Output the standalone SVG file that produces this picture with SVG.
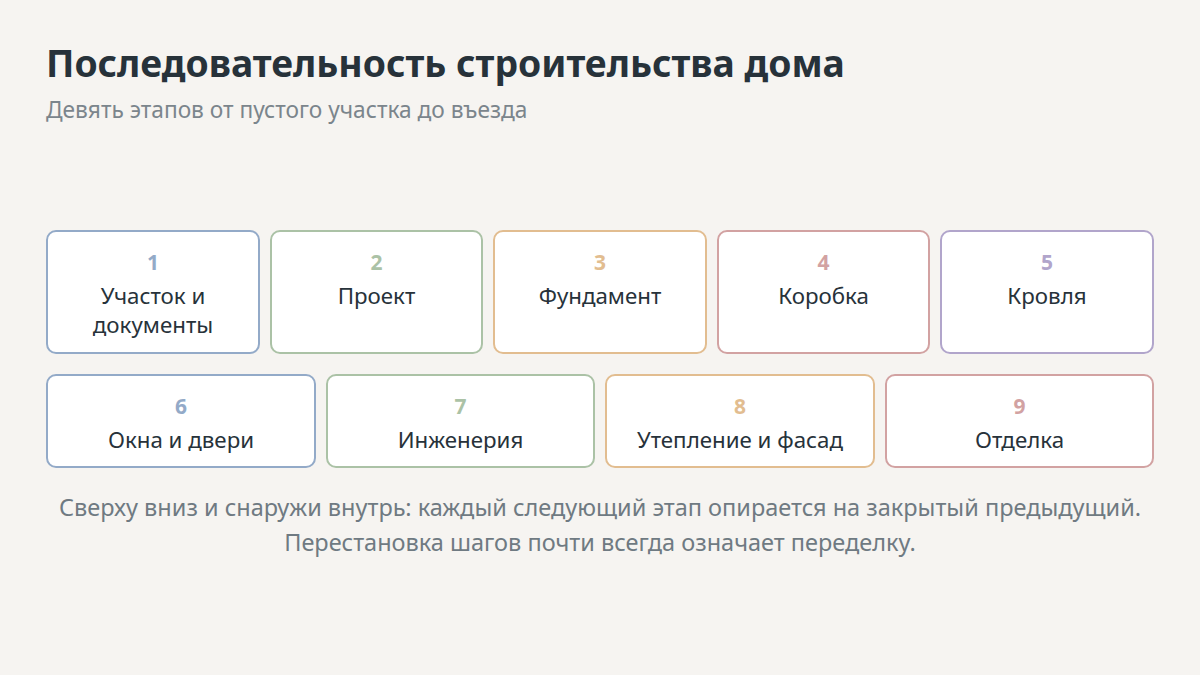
<svg xmlns="http://www.w3.org/2000/svg" width="1200" height="675" viewBox="0 0 1200 675">
<style>
.bg{fill:#f6f4f1}
.title{font-family:"Noto Sans","Open Sans",sans-serif;font-weight:700;font-size:37.3px;fill:#27323a}
.sub{font-family:"Noto Sans","Open Sans",sans-serif;font-size:22.7px;fill:#7b858c}
.box{fill:#ffffff;stroke-width:2}
.num{font-family:"Noto Sans","Open Sans",sans-serif;font-weight:700;font-size:21px;text-anchor:middle}
.lbl{font-family:"Noto Sans","Open Sans",sans-serif;font-size:22.3px;fill:#27323a;text-anchor:middle}
.foot{font-family:"Noto Sans","Open Sans",sans-serif;font-size:23.5px;fill:#6f7a82;text-anchor:middle}
.c1{stroke:#93aac8}.t1{fill:#93aac8}
.c2{stroke:#abc2a6}.t2{fill:#abc2a6}
.c3{stroke:#e2bd90}.t3{fill:#e2bd90}
.c4{stroke:#d2a2a2}.t4{fill:#d2a2a2}
.c5{stroke:#b1a5cb}.t5{fill:#b1a5cb}
</style>
<rect class="bg" x="0" y="0" width="1200" height="675"/>
<text class="title" x="46" y="77">Последовательность строительства дома</text>
<text class="sub" x="46" y="118">Девять этапов от пустого участка до въезда</text>
<g id="connectors"></g>
<g id="n1"><rect class="box c1" x="47" y="231" width="212" height="122" rx="9"/><text class="num t1" x="153" y="270">1</text><text class="lbl" x="153" y="304">Участок и</text><text class="lbl" x="153" y="333">документы</text></g>
<g id="n2"><rect class="box c2" x="271" y="231" width="211" height="122" rx="9"/><text class="num t2" x="376.5" y="270">2</text><text class="lbl" x="376.5" y="304">Проект</text></g>
<g id="n3"><rect class="box c3" x="494" y="231" width="212" height="122" rx="9"/><text class="num t3" x="600" y="270">3</text><text class="lbl" x="600" y="304">Фундамент</text></g>
<g id="n4"><rect class="box c4" x="718" y="231" width="211" height="122" rx="9"/><text class="num t4" x="823.5" y="270">4</text><text class="lbl" x="823.5" y="304">Коробка</text></g>
<g id="n5"><rect class="box c5" x="941" y="231" width="212" height="122" rx="9"/><text class="num t5" x="1047" y="270">5</text><text class="lbl" x="1047" y="304">Кровля</text></g>
<g id="n6"><rect class="box c1" x="47" y="375" width="268" height="92" rx="9"/><text class="num t1" x="181" y="414">6</text><text class="lbl" x="181" y="448">Окна и двери</text></g>
<g id="n7"><rect class="box c2" x="327" y="375" width="267" height="92" rx="9"/><text class="num t2" x="460.5" y="414">7</text><text class="lbl" x="460.5" y="448">Инженерия</text></g>
<g id="n8"><rect class="box c3" x="606" y="375" width="268" height="92" rx="9"/><text class="num t3" x="740" y="414">8</text><text class="lbl" x="740" y="448">Утепление и фасад</text></g>
<g id="n9"><rect class="box c4" x="886" y="375" width="267" height="92" rx="9"/><text class="num t4" x="1019.5" y="414">9</text><text class="lbl" x="1019.5" y="448">Отделка</text></g>
<text class="foot" x="600" y="516">Сверху вниз и снаружи внутрь: каждый следующий этап опирается на закрытый предыдущий.</text>
<text class="foot" x="600" y="551">Перестановка шагов почти всегда означает переделку.</text>
</svg>
